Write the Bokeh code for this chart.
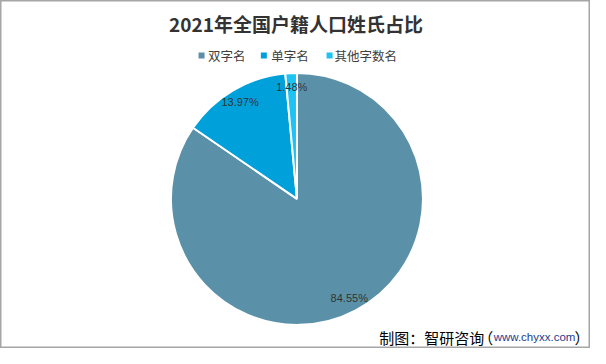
import math
from bokeh.plotting import figure
from bokeh.models import Range1d, ColumnDataSource, Label
from bokeh.core.properties import value
from bokeh.embed import file_html
from bokeh.resources import INLINE

# ---- data ----
title_text = "2021年全国户籍人口姓氏占比"
categories = ["双字名", "单字名", "其他字数名"]
shares = [84.55, 13.97, 1.48]
pct_labels = ["84.55%", "13.97%", "1.48%"]
source_prefix = "制图：智研咨询"
source_open = "（"
source_url = "www.chyxx.com"
source_close = "）"

# ---- style ----
colors = ["#5B91A8", "#00A1DA", "#1DC3F5"]
W, H = 590, 348
SX, SY = W / 606.0, H / 364.0

def X(xr):
    return xr * SX

def Y(yr):
    return H - yr * SY

p = figure(width=W, height=H, x_range=Range1d(0, W), y_range=Range1d(0, H),
           output_backend="svg", toolbar_location=None, min_border=0)
p.axis.visible = False
p.grid.visible = False
p.outline_line_color = "#A6A6A6"
p.outline_line_width = 2
p.background_fill_color = "white"
p.border_fill_color = "white"

cx, cy, R = X(304.5), Y(207.5), 126

total = sum(shares)
starts, ends, mids = [], [], []
acc = 0.0
for s in shares:
    a0 = math.pi / 2 - 2 * math.pi * acc / total
    acc += s
    a1 = math.pi / 2 - 2 * math.pi * acc / total
    starts.append(a0)
    ends.append(a1)
    mids.append((a0 + a1) / 2)

src = ColumnDataSource(dict(start=starts, end=ends, color=colors, cat=categories))
p.wedge(x=cx, y=cy, radius=R, radius_units="screen", start_angle="start", end_angle="end",
        direction="clock", fill_color="color", line_color="white", line_width=2, source=src)

# percentage labels
lr = 0.89 * R
lab_src = ColumnDataSource(dict(
    x=[cx + lr * math.cos(m) for m in mids],
    y=[cy + lr * math.sin(m) for m in mids],
    t=pct_labels))
p.text(x="x", y="y", text="t", source=lab_src, text_align="center", text_baseline="middle",
       text_font=value("Liberation Sans"), text_font_size="11px", text_color="#333333")

# title
p.add_layout(Label(x=X(303.5), y=Y(24), text=title_text, text_align="center",
                   text_baseline="middle", text_font="Noto Sans CJK SC",
                   text_font_size="19px", text_font_style="bold", text_color="#333333"))

# legend
leg_sq_x = [X(206.5), X(270.5), X(338)]
leg_tx_x = [X(213), X(278), X(343)]
leg_y = Y(57.5)
p.rect(x=leg_sq_x, y=[leg_y] * 3, width=6, height=6, width_units="screen", height_units="screen",
       fill_color=colors, line_color=None)
p.text(x=leg_tx_x, y=[leg_y] * 3, text=categories, text_align="left", text_baseline="middle",
       text_font=value("Noto Sans CJK SC"), text_font_size="12.5px", text_color="#404040")

# source note
fy = Y(352)
p.add_layout(Label(x=X(389), y=fy, text=source_prefix, text_align="left", text_baseline="middle",
                   text_font="Noto Sans CJK SC", text_font_size="15px", text_color="#000000"))
p.add_layout(Label(x=X(506), y=fy, text=source_open, text_align="right", text_baseline="middle",
                   text_font="Noto Sans CJK SC", text_font_size="15px", text_color="#000000"))
p.add_layout(Label(x=X(506.5), y=fy, text=source_url, text_align="left", text_baseline="middle",
                   text_font="Liberation Sans", text_font_size="11.5px", text_color="#1F3A8C"))
p.add_layout(Label(x=574, y=fy, text=source_close, text_align="left", text_baseline="middle",
                   text_font="Noto Sans CJK SC", text_font_size="15px", text_color="#000000"))

open("out.html", "w").write(file_html(p, INLINE))
